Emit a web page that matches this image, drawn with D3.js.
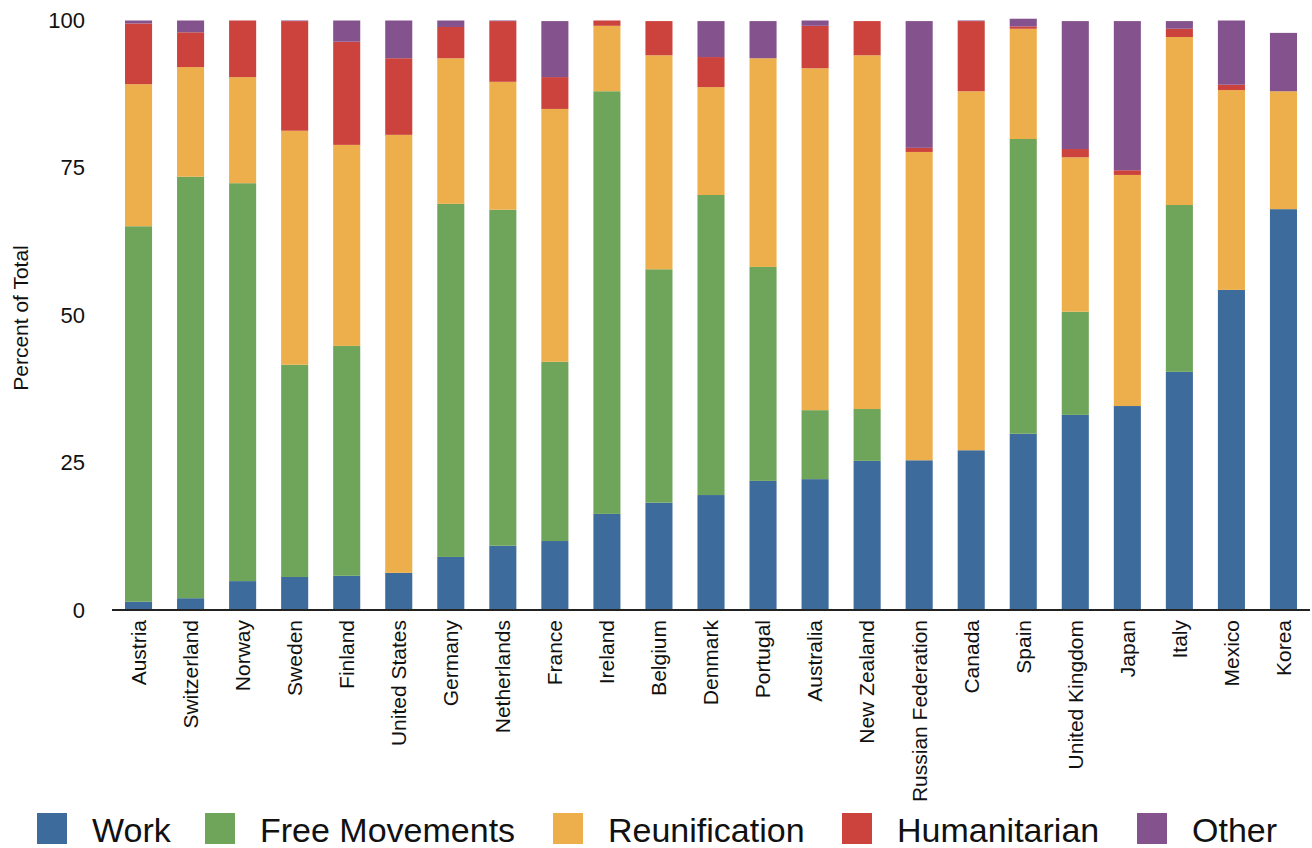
<!DOCTYPE html>
<html>
<head>
<meta charset="utf-8">
<script src="https://cdn.jsdelivr.net/npm/d3@7"></script>
<style>
  body { margin: 0; background: #fff; }
  svg { font-family: "Liberation Sans", Arial, sans-serif; }
</style>
</head>
<body>
<svg id="plot" width="1312" height="848"></svg>
<script>
let countries = ["Austria", "Switzerland", "Norway", "Sweden", "Finland", "United States",
  "Germany", "Netherlands", "France", "Ireland", "Belgium", "Denmark", "Portugal",
  "Australia", "New Zealand", "Russian Federation", "Canada", "Spain", "United Kingdom",
  "Japan", "Italy", "Mexico", "Korea"];

let seriesNames = ["Work", "Free Movements", "Reunification", "Humanitarian", "Other"];

let work =          [1.4, 2.0, 4.9, 5.6, 5.8, 6.3, 9.0, 10.9, 11.7, 16.3, 18.2, 19.5, 21.9, 22.2, 25.3, 25.4, 27.1, 29.9, 33.1, 34.6, 40.4, 54.3, 68.0];
let freeMovements = [63.7, 71.5, 67.5, 36.0, 39.0, 0, 59.9, 57.0, 30.4, 71.7, 39.6, 50.9, 36.3, 11.7, 8.8, 0, 0, 50.0, 17.5, 0, 28.3, 0, 0];
let reunification = [24.1, 18.6, 18.0, 39.7, 34.1, 74.3, 24.7, 21.7, 42.9, 11.1, 36.3, 18.3, 35.4, 58.0, 60.0, 52.3, 60.9, 18.7, 26.2, 39.2, 28.5, 33.9, 20.0];
let humanitarian =  [10.3, 5.9, 9.6, 18.6, 17.5, 13.0, 5.3, 10.3, 5.4, 0.9, 5.8, 5.1, 0, 7.2, 5.8, 0.7, 11.9, 0.4, 1.4, 0.8, 1.4, 0.9, 0];
let other =         [0.5, 2.0, 0, 0.1, 3.6, 6.4, 1.1, 0.1, 9.5, 0, 0, 6.1, 6.3, 0.9, 0, 21.5, 0.1, 1.3, 21.7, 25.3, 1.3, 10.9, 9.9];

let yTicks = [0, 25, 50, 75, 100];

let colour = d3.scaleOrdinal()
    .domain(seriesNames)
    .range(["#3d6b9c", "#6fa55a", "#ecaf4c", "#cc433e", "#84528c"]);

let table = countries.map((c, i) => ({
  country: c,
  "Work": work[i],
  "Free Movements": freeMovements[i],
  "Reunification": reunification[i],
  "Humanitarian": humanitarian[i],
  "Other": other[i]
}));

let margin = {top: 20.5, right: 2, bottom: 238, left: 112};
let width = 1312, height = 848;

let svg = d3.select("#plot");

let x = d3.scaleBand()
    .domain(countries)
    .range([margin.left, width - margin.right])
    .paddingInner(0.48)
    .paddingOuter(0.25);

let y = d3.scaleLinear()
    .domain([0, 100])
    .range([610, margin.top]);

let stacked = d3.stack().keys(seriesNames)(table);

svg.append("g")
  .selectAll("g")
  .data(stacked)
  .join("g")
    .attr("fill", d => colour(d.key))
  .selectAll("rect")
  .data(d => d)
  .join("rect")
    .attr("x", d => x(d.data.country))
    .attr("y", d => y(d[1]))
    .attr("width", x.bandwidth())
    .attr("height", d => y(d[0]) - y(d[1]));

// y axis: labels only
let yAxis = g => g
    .attr("transform", `translate(85, 0)`)
    .call(d3.axisLeft(y).tickValues(yTicks).tickSize(0).tickPadding(0))
    .call(g => g.select(".domain").remove())
    .call(g => g.selectAll(".tick text")
        .attr("font-size", 22)
        .attr("font-family", "Liberation Sans, Arial, sans-serif")
        .attr("fill", "#111"));

svg.append("g").call(yAxis);

// x axis
let xAxis = g => g
    .attr("transform", `translate(0, 610)`)
    .call(d3.axisBottom(x).tickSize(0).tickPadding(10))
    .call(g => g.select(".domain")
        .attr("stroke", "#222")
        .attr("stroke-width", 2)
        .attr("d", `M${margin.left},0H${width - margin.right}`))
    .call(g => g.selectAll(".tick text")
        .attr("font-size", 21)
        .attr("font-family", "Liberation Sans, Arial, sans-serif")
        .attr("fill", "#111")
        .attr("text-anchor", "end")
        .attr("transform", "rotate(-90)")
        .attr("x", -10)
        .attr("y", 0)
        .attr("dy", "0.35em"));

svg.append("g").call(xAxis);

svg.append("text")
    .attr("transform", `translate(28, 318) rotate(-90)`)
    .attr("text-anchor", "middle")
    .attr("font-size", 21)
    .attr("fill", "#111")
    .text("Percent of Total");

// legend
let legendX = [37, 205, 553, 842, 1137];

let legend = svg.append("g")
  .selectAll("g")
  .data(seriesNames)
  .join("g")
    .attr("transform", (d, i) => `translate(${legendX[i]}, 813)`);

legend.append("rect")
    .attr("width", 30)
    .attr("height", 31)
    .attr("fill", d => colour(d));

legend.append("text")
    .attr("x", 55)
    .attr("y", 29)
    .attr("font-size", 34)
    .attr("fill", "#111")
    .text(d => d);
</script>
</body>
</html>
